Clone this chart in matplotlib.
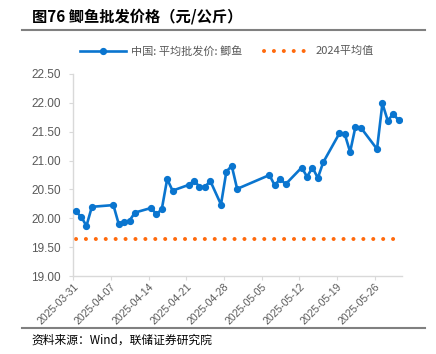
import matplotlib
matplotlib.use("Agg")
import matplotlib.pyplot as plt
import matplotlib.dates as mdates
from matplotlib.lines import Line2D
import pandas as pd

plt.rcParams['font.family'] = ['Noto Sans CJK SC', 'DejaVu Sans']

dates = ["2025-03-31", "2025-04-01", "2025-04-02", "2025-04-03", "2025-04-07", "2025-04-08",
         "2025-04-09", "2025-04-10", "2025-04-11", "2025-04-14", "2025-04-15", "2025-04-16",
         "2025-04-17", "2025-04-18", "2025-04-21", "2025-04-22", "2025-04-23", "2025-04-24",
         "2025-04-25", "2025-04-27", "2025-04-28", "2025-04-29", "2025-04-30", "2025-05-06",
         "2025-05-07", "2025-05-08", "2025-05-09", "2025-05-12", "2025-05-13", "2025-05-14",
         "2025-05-15", "2025-05-16", "2025-05-19", "2025-05-20", "2025-05-21", "2025-05-22",
         "2025-05-23", "2025-05-26", "2025-05-27", "2025-05-28", "2025-05-29", "2025-05-30"]
price = [20.12, 20.03, 19.87, 20.20, 20.23, 19.90,
         19.94, 19.96, 20.10, 20.18, 20.07, 20.16,
         20.68, 20.48, 20.58, 20.65, 20.55, 20.54,
         20.65, 20.24, 20.81, 20.91, 20.51, 20.75,
         20.57, 20.69, 20.59, 20.88, 20.72, 20.88,
         20.70, 20.97, 21.47, 21.46, 21.15, 21.59,
         21.57, 21.20, 21.99, 21.69, 21.81, 21.70]
avg_2024 = 19.65
tick_dates = ["2025-03-31", "2025-04-07", "2025-04-14", "2025-04-21", "2025-04-28",
              "2025-05-05", "2025-05-12", "2025-05-19", "2025-05-26"]

title = "图76 鲫鱼批发价格（元/公斤）"
series_name = "中国: 平均批发价: 鲫鱼"
avg_name = "2024平均值"
source = "资料来源：Wind，联储证券研究院"

x = pd.to_datetime(dates) + pd.Timedelta(hours=11)
xt = pd.to_datetime(tick_dates)

fig = plt.figure(figsize=(4.36, 3.54), dpi=100)
ax = fig.add_axes([0.168, 0.220, 0.754, 0.571])

blue = "#0A75CF"
orange = "#FF6A0D"
ax.plot(x, [avg_2024] * len(x), color=orange, linewidth=2.9,
        linestyle=(0, (0.01, 2.45)), dash_capstyle='round', label=avg_name, zorder=2)
ax.plot(x, price, color=blue, linewidth=1.9, marker='o', markersize=4.2,
        label=series_name, zorder=3)

ax.set_ylim(19.0, 22.5)
ax.set_yticks([19.0, 19.5, 20.0, 20.5, 21.0, 21.5, 22.0, 22.5])
ax.yaxis.set_major_formatter(matplotlib.ticker.FormatStrFormatter('%.2f'))
ax.set_xlim(pd.Timestamp("2025-03-31"), pd.Timestamp("2025-03-31") + pd.Timedelta(days=61.1))
ax.set_xticks(xt)
ax.xaxis.set_major_formatter(mdates.DateFormatter('%Y-%m-%d'))

for s in ['top', 'right']:
    ax.spines[s].set_visible(False)
for s in ['left', 'bottom']:
    ax.spines[s].set_color('#D9D9D9')
    ax.spines[s].set_linewidth(1.0)
ax.tick_params(axis='both', colors='#D9D9D9', labelcolor='#595959', length=3, width=0.8)
ax.tick_params(axis='y', labelsize=8.5, pad=6)
ax.tick_params(axis='x', labelsize=7.5, pad=1)
for lbl in ax.get_xticklabels():
    lbl.set_rotation(45)
    lbl.set_ha('right')
    lbl.set_rotation_mode('anchor')
for lbl in ax.get_yticklabels():
    lbl.set_family(['Liberation Sans', 'DejaVu Sans'])
for lbl in ax.get_xticklabels():
    lbl.set_family(['Liberation Sans', 'DejaVu Sans'])

handles, labels = ax.get_legend_handles_labels()
leg = fig.legend(handles[::-1], labels[::-1], loc='center', bbox_to_anchor=(0.52, 0.856),
                 ncol=2, frameon=False, fontsize=8, handlelength=4.2, columnspacing=2.0,
                 numpoints=1, handletextpad=0.4)
for t in leg.get_texts():
    t.set_color('#595959')

fig.text(0.073, 0.952, title, fontsize=11, fontweight='bold', ha='left', va='center', color='#000000')
fig.text(0.073, 0.040, source, fontsize=8.5, ha='left', va='center', color='#000000')
fig.add_artist(Line2D([0.05, 0.975], [0.915, 0.915], color='#808080', linewidth=1.5))
fig.add_artist(Line2D([0.05, 0.975], [0.073, 0.073], color='#808080', linewidth=1.5))

fig.savefig("out.png", dpi=100)
